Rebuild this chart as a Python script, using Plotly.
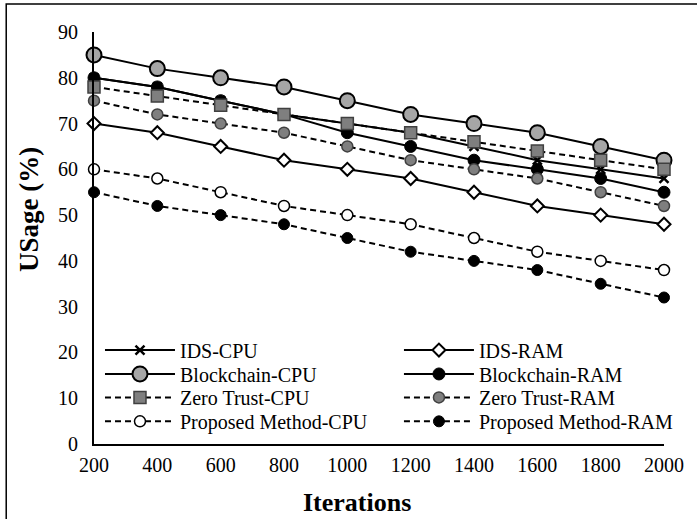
import plotly.graph_objects as go

iterations = [200, 400, 600, 800, 1000, 1200, 1400, 1600, 1800, 2000]
ids_cpu = [80, 78, 75, 72, 70, 68, 65, 62, 60, 58]
ids_ram = [70, 68, 65, 62, 60, 58, 55, 52, 50, 48]
bc_cpu = [85, 82, 80, 78, 75, 72, 70, 68, 65, 62]
bc_ram = [80, 78, 75, 72, 68, 65, 62, 60, 58, 55]
zt_cpu = [78, 76, 74, 72, 70, 68, 66, 64, 62, 60]
zt_ram = [75, 72, 70, 68, 65, 62, 60, 58, 55, 52]
pm_cpu = [60, 58, 55, 52, 50, 48, 45, 42, 40, 38]
pm_ram = [55, 52, 50, 48, 45, 42, 40, 38, 35, 32]

x_title = "Iterations"
y_title = "USage (%)"

FONT = "Liberation Serif, Times New Roman, serif"
DASH = "6px,4px"

series = [
    ("IDS-CPU", ids_cpu, "solid", dict(symbol="x-thin", size=9, color="black", line=dict(color="black", width=2.5))),
    ("IDS-RAM", ids_ram, "solid", dict(symbol="diamond", size=10, color="white", line=dict(color="black", width=2))),
    ("Blockchain-CPU", bc_cpu, "solid", dict(symbol="circle", size=15, color="#a6a6a6", line=dict(color="black", width=2))),
    ("Blockchain-RAM", bc_ram, "solid", dict(symbol="circle", size=12, color="black", line=dict(color="black", width=1))),
    ("Zero Trust-CPU", zt_cpu, DASH, dict(symbol="square", size=12, color="#7f7f7f", line=dict(color="#404040", width=1.5))),
    ("Zero Trust-RAM", zt_ram, DASH, dict(symbol="circle", size=11, color="#7f7f7f", line=dict(color="#404040", width=1.5))),
    ("Proposed Method-CPU", pm_cpu, DASH, dict(symbol="circle", size=11, color="white", line=dict(color="black", width=1.5))),
    ("Proposed Method-RAM", pm_ram, DASH, dict(symbol="circle", size=11, color="black", line=dict(color="black", width=1))),
]

# legend slots: (column x in paper, row y in paper)
col_x = [0.0105, 0.535]
row_y = [0.228, 0.170, 0.113, 0.055]

fig = go.Figure()
legend_layouts = {}
for i, (name, vals, dash, marker) in enumerate(series):
    lname = "legend" if i == 0 else f"legend{i + 1}"
    fig.add_trace(go.Scatter(
        x=iterations, y=vals, name=name, mode="lines+markers",
        line=dict(color="black", width=2, dash=dash),
        marker=marker, cliponaxis=False, legend=lname,
    ))
    legend_layouts[lname] = dict(
        x=col_x[i % 2], y=row_y[i // 2], xanchor="left", yanchor="middle",
        itemwidth=70, bgcolor="rgba(0,0,0,0)", borderwidth=0,
        font=dict(family=FONT, size=20, color="black"),
    )

fig.update_layout(
    width=697, height=519,
    margin=dict(l=94, r=33, t=32, b=75),
    paper_bgcolor="white", plot_bgcolor="white",
    font=dict(family=FONT, size=20, color="black"),
    showlegend=True,
    xaxis=dict(
        range=[200, 2000], tickvals=iterations, showgrid=False, zeroline=False,
        showline=True, linecolor="black", linewidth=2, ticks="", automargin=False,
        tickfont=dict(family=FONT, size=20), ticklabelstandoff=2,
    ),
    yaxis=dict(
        range=[0, 90], dtick=10, showgrid=False, zeroline=False,
        showline=True, linecolor="black", linewidth=2, ticks="", automargin=False,
        tickfont=dict(family=FONT, size=20), ticklabelstandoff=10,
    ),
    annotations=[
        dict(text=f"<b>{x_title}</b>", xref="paper", yref="paper", x=0.461, y=-0.143,
             xanchor="center", yanchor="middle", showarrow=False,
             font=dict(family=FONT, size=26, color="black")),
        dict(text=f"<b>{y_title}</b>", xref="paper", yref="paper", x=-0.114, y=0.568,
             xanchor="center", yanchor="middle", showarrow=False, textangle=-90,
             font=dict(family=FONT, size=27, color="black")),
    ],
    shapes=[dict(type="rect", xref="paper", yref="paper",
                 x0=-0.154, x1=1.1, y0=-0.3, y1=1.068,
                 line=dict(color="black", width=1.5), fillcolor="rgba(0,0,0,0)", layer="below")],
    **legend_layouts,
)

fig.write_html("out.html")
